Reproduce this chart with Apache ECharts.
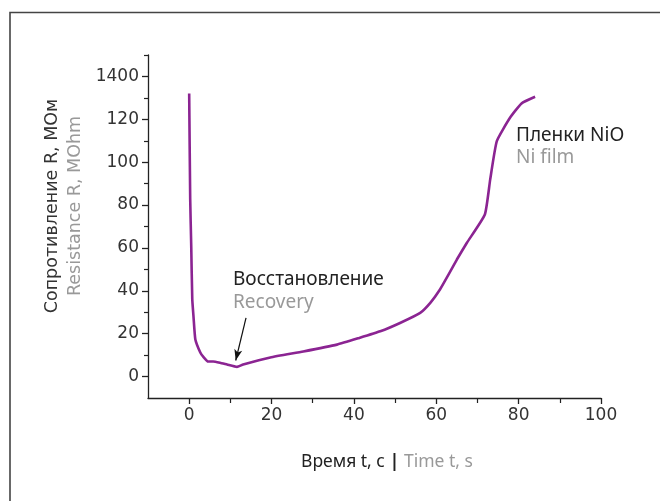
<!DOCTYPE html>
<html><head><meta charset="utf-8">
<script src="https://cdn.jsdelivr.net/npm/echarts@6/dist/echarts.min.js"></script>
<style>html,body{margin:0;padding:0;background:#fff}#c{width:660px;height:501px}</style>
</head><body><div id="c"></div>
<script>
const timeS = [0,0.25,0.5,0.75,1.05,1.5,2.7,3.4,4.6,5.8,7.5,9.2,11.6,13.1,19.7,27.7,35.9,41.3,46.4,51.2,56.1,58.6,60.9,62.9,65,67.4,71.8,73.1,74.7,77.9,80.7,84];
const resistance = [132,82.6,60.7,36,28,17.3,11.2,9.3,7,7,6.4,5.6,4.5,5.6,8.9,11.7,14.9,18,21.1,25,29.7,34.5,40.6,47.3,54.6,62.3,75.6,92,109.8,120.7,127.4,130.5];
const xMajorTicks = [0,20,40,60,80,100];
const xMinorTicks = [10,30,50,70,90];
const yMajorTicks = [0,20,40,60,80,100,120,140];
const yMinorTicks = [10,30,50,70,90,110,130,150];
const yTickLabels = {0:'0',20:'20',40:'40',60:'60',80:'80',100:'100',120:'120',140:'1400'};
const arrowFrom = [13.8, 27.4];
const arrowTo = [11.3, 7.5];

const chart = echarts.init(document.getElementById('c'));
const axisCol = '#222';
const labelFont = 'DejaVu Sans';
const humanist = 'Noto Sans';
const purple = '#8B2492';

chart.setOption({
  animation: false,
  grid: {left: 148, top: 55, width: 453, height: 343, containLabel: false},
  xAxis: [{
    type: 'value', min: -10, max: 100,
    axisLine: {show: true, onZero: false, lineStyle: {color: axisCol, width: 1.3}},
    axisTick: {show: true, length: 6, customValues: xMajorTicks, lineStyle: {color: axisCol, width: 1.3}},
    axisLabel: {customValues: xMajorTicks, color: '#333', fontFamily: labelFont, fontSize: 17, margin: 9},
    splitLine: {show: false}
  },{
    type: 'value', min: -10, max: 100, position: 'bottom',
    axisLine: {show: false, onZero: false},
    axisTick: {show: true, length: 5, customValues: xMinorTicks, lineStyle: {color: axisCol, width: 1.2}},
    axisLabel: {show: false}, splitLine: {show: false}
  }],
  yAxis: [{
    type: 'value', min: -10, max: 150,
    axisLine: {show: true, onZero: false, lineStyle: {color: axisCol, width: 1.3}},
    axisTick: {show: true, length: 6, customValues: yMajorTicks, lineStyle: {color: axisCol, width: 1.3}},
    axisLabel: {customValues: yMajorTicks, color: '#333', fontFamily: labelFont, fontSize: 17, margin: 9,
      formatter: v => yTickLabels[v] !== undefined ? yTickLabels[v] : ''},
    splitLine: {show: false}
  },{
    type: 'value', min: -10, max: 150, position: 'left',
    axisLine: {show: false, onZero: false},
    axisTick: {show: true, length: 4, customValues: yMinorTicks, lineStyle: {color: axisCol, width: 1.2}},
    axisLabel: {show: false}, splitLine: {show: false}
  }],
  series: [{
    type: 'line',
    data: timeS.map((t, i) => [t, resistance[i]]),
    showSymbol: false, symbol: 'none',
    smooth: 0.15,
    lineStyle: {color: purple, width: 2.6, join: 'round'},
    markLine: {
      silent: true, symbol: ['none', 'arrow'], symbolSize: [6, 11],
      label: {show: false},
      lineStyle: {color: '#111', width: 1.2, type: 'solid'},
      data: [[{coord: arrowFrom}, {coord: arrowTo}]]
    }
  }],
  graphic: [
    {type: 'rect', shape: {x: 10, y: 12.5, width: 700, height: 600}, style: {fill: 'none', stroke: '#444', lineWidth: 1.6}, silent: true},
    {type: 'text', x: 52, y: 206, rotation: Math.PI / 2,
      style: {text: 'Сопротивление R, МОм', fill: '#333', font: '17.5px "DejaVu Sans"', align: 'center', verticalAlign: 'middle'}},
    {type: 'text', x: 75, y: 206, rotation: Math.PI / 2,
      style: {text: 'Resistance R, MOhm', fill: '#999', font: '17.5px "DejaVu Sans"', align: 'center', verticalAlign: 'middle'}},
    {type: 'text', x: 387, y: 462,
      style: {text: '{a|Время t, с }{b||}{c| Time t, s}', align: 'center', verticalAlign: 'middle',
        rich: {a: {fill: '#222', fontFamily: humanist, fontSize: 17.5},
               b: {fill: '#222', fontFamily: humanist, fontSize: 18, fontWeight: 'bold'},
               c: {fill: '#999', fontFamily: humanist, fontSize: 17.5}}}},
    {type: 'text', x: 233, y: 280,
      style: {text: 'Восстановление', fill: '#222', fontFamily: humanist, fontSize: 19, verticalAlign: 'middle'}},
    {type: 'text', x: 233, y: 303,
      style: {text: 'Recovery', fill: '#999', fontFamily: humanist, fontSize: 19, verticalAlign: 'middle'}},
    {type: 'text', x: 516, y: 136,
      style: {text: 'Пленки NiO', fill: '#222', fontFamily: humanist, fontSize: 19, verticalAlign: 'middle'}},
    {type: 'text', x: 516, y: 158,
      style: {text: 'Ni film', fill: '#999', fontFamily: humanist, fontSize: 19, verticalAlign: 'middle'}}
  ]
});
</script></body></html>
